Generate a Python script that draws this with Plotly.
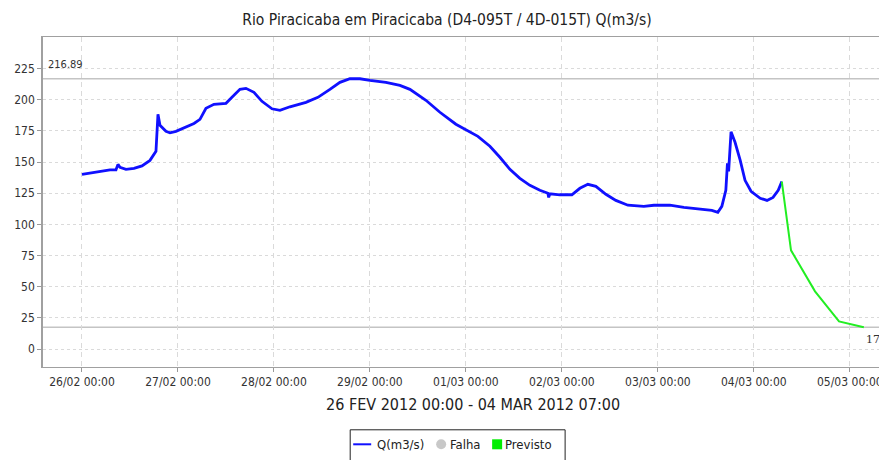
import pandas as pd
import plotly.graph_objects as go

# ---------------- data ----------------
BASE = pd.Timestamp("2012-02-26 00:00")

# observed discharge Q(m3/s): hours since 26/02 00:00 and values
obs_hours = [0, 2, 5, 7, 8.5, 9, 9.5, 11, 13, 15, 17, 18.5, 19, 19.5, 21, 22, 23.5,
             26, 28, 29.5, 31, 33, 36, 37.5, 39.5, 41, 43, 45, 47.5, 49.5, 52, 56,
             59, 62, 64.5, 67, 69.5, 72, 76, 79.5, 82, 86, 89.5, 93.5, 96, 99, 102,
             104.5, 107, 109.5, 112, 114.5, 116.5, 116.7, 117, 119.5, 122.5, 124.5,
             126.5, 128.5, 131, 133.5, 136.5, 140.5, 143, 147, 150.5, 154.5, 157.5,
             159, 160, 161, 161.2, 161.4, 161.7, 162.3, 163.3, 164.6, 165.8, 167.3,
             169.6, 171.3, 172.8, 174.1, 175]
obs_values = [140.2, 141.4, 142.6, 143.8, 143.8, 148.2, 145.8, 144.2, 145.0, 147.0,
              151.4, 158.7, 188.4, 179.5, 174.7, 173.5, 174.7, 178.0, 181.0, 184.3,
              193.2, 196.4, 197.2, 202.0, 208.4, 209.2, 206.0, 198.8, 192.8, 191.6,
              194.4, 198.0, 202.0, 208.4, 214.0, 217.0, 216.9, 215.6, 214.0, 211.6,
              208.4, 199.6, 190.0, 180.4, 175.8, 170.7, 162.7, 153.9, 144.2, 137.0,
              131.4, 127.4, 125.0, 121.7, 124.6, 123.8, 123.8, 129.0, 132.2, 130.6,
              124.2, 119.3, 115.4, 114.5, 115.4, 115.4, 113.7, 112.5, 111.3, 109.7,
              114.5, 127.4, 145.0, 149.0, 142.6, 174.3, 165.9, 151.4, 135.4, 126.6,
              121.0, 119.3, 121.7, 127.4, 134.4]

# forecast (Previsto)
fc_hours = [175, 177.3, 183.3, 189.3, 195.5]
fc_values = [134.4, 79.2, 46.3, 22.2, 17.5]

max_value = 216.89
min_value = 17.5

y_ticks = [0, 25, 50, 75, 100, 125, 150, 175, 200, 225]
title_text = "Rio Piracicaba em Piracicaba (D4-095T / 4D-015T) Q(m3/s)"
xaxis_text = "26 FEV 2012 00:00 - 04 MAR 2012 07:00"
legend_labels = ["Q(m3/s)", "Falha", "Previsto"]

# ---------------- layout constants ----------------
# the page body has an 8px margin, so the figure is drawn 8px smaller and all
# page-pixel positions below are shifted by OFF
OFF = 8
PAGE_W, PAGE_H = 887, 460
W, H = PAGE_W - OFF, PAGE_H - OFF
PLOT_L, PLOT_R, PLOT_T, PLOT_B = 42.7, 887, 36.7, 366.7   # page pixels
ML, MR = PLOT_L - OFF, PAGE_W - PLOT_R
MT, MB = PLOT_T - OFF, PAGE_H - PLOT_B
PW, PH = PLOT_R - PLOT_L, PLOT_B - PLOT_T
FONT = "DejaVu Sans Condensed, DejaVu Sans, sans-serif"


def px(x):
    return (x - PLOT_L) / PW


def py(y):
    return (PLOT_B - y) / PH


obs_t = [BASE + pd.Timedelta(hours=h) for h in obs_hours]
fc_t = [BASE + pd.Timedelta(hours=h) for h in fc_hours]
x_start = BASE - pd.Timedelta(hours=9.75)
x_end = BASE + pd.Timedelta(hours=201.3)

fig = go.Figure()
fig.add_trace(go.Scatter(x=obs_t, y=obs_values, mode="lines",
                         line=dict(color="#1010ff", width=2.8), showlegend=False,
                         name=legend_labels[0]))
fig.add_trace(go.Scatter(x=fc_t, y=fc_values, mode="lines",
                         line=dict(color="#22ee22", width=2), showlegend=False,
                         name=legend_labels[2]))

# reference lines (max / min)
for v in (max_value, min_value):
    fig.add_shape(type="line", xref="paper", x0=0, x1=1, yref="y", y0=v, y1=v,
                  line=dict(color="#c4c4c4", width=1.6), layer="below")

fig.add_annotation(text=f"{max_value:.2f}", xref="paper", x=px(46), yref="y", y=max_value,
                   yshift=6, xanchor="left", yanchor="bottom", showarrow=False,
                   font=dict(family=FONT, size=11, color="#333"))
fig.add_annotation(text=f"{min_value}", xref="paper", x=px(864), yref="y", y=min_value,
                   yshift=-4, xanchor="left", yanchor="top", showarrow=False,
                   font=dict(family="DejaVu Serif, serif", size=11, color="#333"))

# x axis caption
fig.add_annotation(text=xaxis_text, xref="paper", x=px(472.5), yref="paper", y=py(404),
                   xanchor="center", yanchor="middle", showarrow=False,
                   font=dict(family=FONT, size=16, color="#222"))

# custom legend
lg_top, lg_bot = 429.5, 470
fig.add_shape(type="rect", xref="paper", yref="paper", x0=px(350), x1=px(565),
              y0=py(lg_bot), y1=py(lg_top), line=dict(color="#222", width=1),
              fillcolor="white")
fig.add_shape(type="line", xref="paper", yref="paper", x0=px(353), x1=px(371),
              y0=py(444), y1=py(444), line=dict(color="#1010ff", width=2))
fig.add_annotation(text=legend_labels[0], xref="paper", yref="paper", x=px(375), y=py(444),
                   xanchor="left", yanchor="middle", showarrow=False,
                   font=dict(family=FONT, size=13, color="#222"))
fig.add_shape(type="circle", xref="paper", yref="paper", x0=px(436), x1=px(446),
              y0=py(449), y1=py(439), line=dict(color="#c8c8c8", width=0),
              fillcolor="#c8c8c8")
fig.add_annotation(text=legend_labels[1], xref="paper", yref="paper", x=px(448), y=py(444),
                   xanchor="left", yanchor="middle", showarrow=False,
                   font=dict(family=FONT, size=13, color="#222"))
fig.add_shape(type="rect", xref="paper", yref="paper", x0=px(492), x1=px(502),
              y0=py(449), y1=py(439), line=dict(color="#00ee00", width=0),
              fillcolor="#00ee00")
fig.add_annotation(text=legend_labels[2], xref="paper", yref="paper", x=px(503), y=py(444),
                   xanchor="left", yanchor="middle", showarrow=False,
                   font=dict(family=FONT, size=13, color="#222"))

fig.update_layout(
    width=W, height=H,
    margin=dict(l=ML, r=MR, t=MT, b=MB, pad=0, autoexpand=False),
    paper_bgcolor="white", plot_bgcolor="white",
    title=dict(text=title_text, x=(447 - OFF) / W, xanchor="center",
               y=1 - (20 - OFF) / H, yanchor="middle",
               font=dict(family=FONT, size=15.5, color="#222")),
    showlegend=False,
    font=dict(family=FONT, size=12, color="#333"),
)
fig.update_xaxes(
    type="date", range=[x_start, x_end], tickformat="%d/%m %H:%M",
    tick0=BASE, dtick=86400000, ticks="outside", ticklen=4, tickcolor="#999",
    showline=True, linecolor="#a0a0a0", linewidth=1, mirror=True, automargin=False,
    showgrid=True, gridcolor="#dadada", griddash="5px,4px", gridwidth=1,
    zeroline=False, tickfont=dict(family=FONT, size=12, color="#333"),
)
fig.update_yaxes(
    range=[-14.4, 250.4], tickvals=y_ticks, ticks="outside", ticklen=4, tickcolor="#999",
    showline=True, linecolor="#a0a0a0", linewidth=1.5, automargin=False,
    showgrid=True, gridcolor="#dadada", griddash="3px,3px", gridwidth=1,
    zeroline=False, tickfont=dict(family=FONT, size=12, color="#333"),
)

fig.write_html("out.html")
